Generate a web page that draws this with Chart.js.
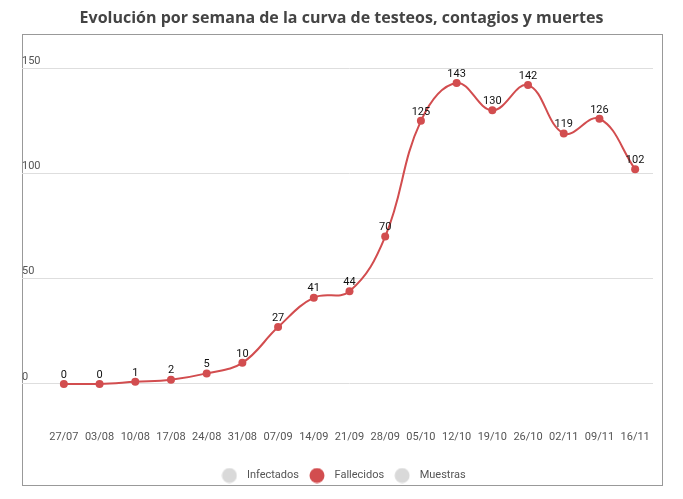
<!DOCTYPE html>
<html>
<head>
<meta charset="utf-8">
<script src="https://cdn.jsdelivr.net/npm/chart.js@4.4.1/dist/chart.umd.min.js"></script>
<style>
  html, body { margin: 0; padding: 0; background: #fff; }
  #wrap { width: 683px; height: 499px; }
</style>
</head>
<body>
<div id="wrap"><canvas id="weeklyChart"></canvas></div>
<script>
// semanas (lunes de cada semana)
const weeks = ['27/07', '03/08', '10/08', '17/08', '24/08', '31/08', '07/09', '14/09', '21/09',
    '28/09', '05/10', '12/10', '19/10', '26/10', '02/11', '09/11', '16/11'];

// fallecidos por semana
const deaths = [0, 0, 1, 2, 5, 10, 27, 41, 44, 70, 125, 143, 130, 142, 119, 126, 102];

// series sin datos visibles en la imagen
const infected = [];
const samples = [];

const yTicks = [0, 50, 100, 150];

const RED = '#d24d4f';
const GREY = '#d9d9d9';

// little round swatch for the legend
function dot(color) {
    const c = document.createElement('canvas');
    c.width = 16;
    c.height = 16;
    const g = c.getContext('2d');
    g.fillStyle = color;
    g.beginPath();
    g.arc(8, 8, 7.5, 0, Math.PI * 2);
    g.fill();
    return c;
}

// values above each point
const pointValues = {
    id: 'pointValues',
    afterDatasetsDraw(chart) {
        const ctx = chart.ctx;
        ctx.save();
        ctx.font = '11px Roboto';
        ctx.fillStyle = '#111';
        ctx.textAlign = 'center';
        ctx.textBaseline = 'middle';
        chart.data.datasets.forEach((ds, i) => {
            const meta = chart.getDatasetMeta(i);
            if (meta.hidden) return;
            meta.data.forEach((pt, j) => {
                ctx.fillText(ds.data[j], pt.x, pt.y - 9);
            });
        });
        ctx.restore();
    }
};

// grey frame around plot + legend
const frame = {
    id: 'frame',
    beforeDraw(chart) {
        const ctx = chart.ctx;
        const left = chart.scales.y.left;
        const top = chart.chartArea.top - 13;
        const right = chart.chartArea.right + 9;
        const bottom = chart.legend.bottom - 6;
        ctx.save();
        ctx.strokeStyle = '#999';
        ctx.lineWidth = 1;
        ctx.strokeRect(Math.round(left) + 0.5, Math.round(top) + 0.5,
            Math.round(right - left), Math.round(bottom - top));
        ctx.restore();
    }
};

const ctx = document.getElementById('weeklyChart').getContext('2d');
new Chart(ctx, {
    type: 'line',
    data: {
        labels: weeks,
        datasets: [{
            label: 'Infectados',
            data: infected,
            borderColor: GREY,
            backgroundColor: GREY
        }, {
            label: 'Fallecidos',
            data: deaths,
            borderColor: RED,
            backgroundColor: RED,
            borderWidth: 2,
            pointRadius: 4,
            pointHoverRadius: 4,
            pointBorderWidth: 0,
            tension: 0.4
        }, {
            label: 'Muestras',
            data: samples,
            borderColor: GREY,
            backgroundColor: GREY
        }]
    },
    options: {
        responsive: true,
        maintainAspectRatio: false,
        animation: false,
        layout: {
            padding: { left: 22, right: 22, top: 0, bottom: 8 }
        },
        plugins: {
            title: {
                display: true,
                text: 'Evolución por semana de la curva de testeos, contagios y muertes',
                font: { family: 'Open Sans', size: 16, weight: 'bold' },
                color: '#444',
                padding: { top: 9, bottom: 19 }
            },
            legend: {
                position: 'bottom',
                labels: {
                    usePointStyle: true,
                    pointStyleWidth: 24,
                    padding: 6,
                    color: '#555',
                    font: { family: 'Roboto', size: 11 },
                    generateLabels(chart) {
                        return chart.data.datasets.map((ds, i) => ({
                            text: ds.label,
                            pointStyle: dot(ds.backgroundColor),
                            fillStyle: ds.backgroundColor,
                            strokeStyle: ds.backgroundColor,
                            lineWidth: 0,
                            hidden: false,
                            fontColor: '#555',
                            datasetIndex: i
                        }));
                    }
                }
            },
            tooltip: { enabled: false }
        },
        scales: {
            x: {
                offset: true,
                grid: { display: false, drawTicks: false },
                border: { display: false },
                ticks: {
                    color: '#555',
                    font: { family: 'Roboto', size: 11 },
                    padding: 5,
                    maxRotation: 0,
                    autoSkip: false
                },
                afterFit(scale) {
                    scale.height = 38;
                }
            },
            y: {
                min: -20,
                max: 160,
                grid: { color: '#dedede', tickLength: 24 },
                border: { display: false },
                ticks: {
                    color: '#555',
                    font: { family: 'Roboto', size: 11 },
                    crossAlign: 'far',
                    labelOffset: -7
                },
                afterBuildTicks(scale) {
                    scale.ticks = yTicks.map(v => ({ value: v }));
                },
                afterFit(scale) {
                    scale.width = 24;
                }
            },
            // empty strip on the right, keeps plot narrower than the frame
            yRight: {
                type: 'linear',
                position: 'right',
                grid: { display: false, drawTicks: false },
                border: { display: false },
                ticks: { display: false },
                afterFit(scale) {
                    scale.width = 8;
                }
            }
        }
    },
    plugins: [frame, pointValues]
});
</script>
</body>
</html>
